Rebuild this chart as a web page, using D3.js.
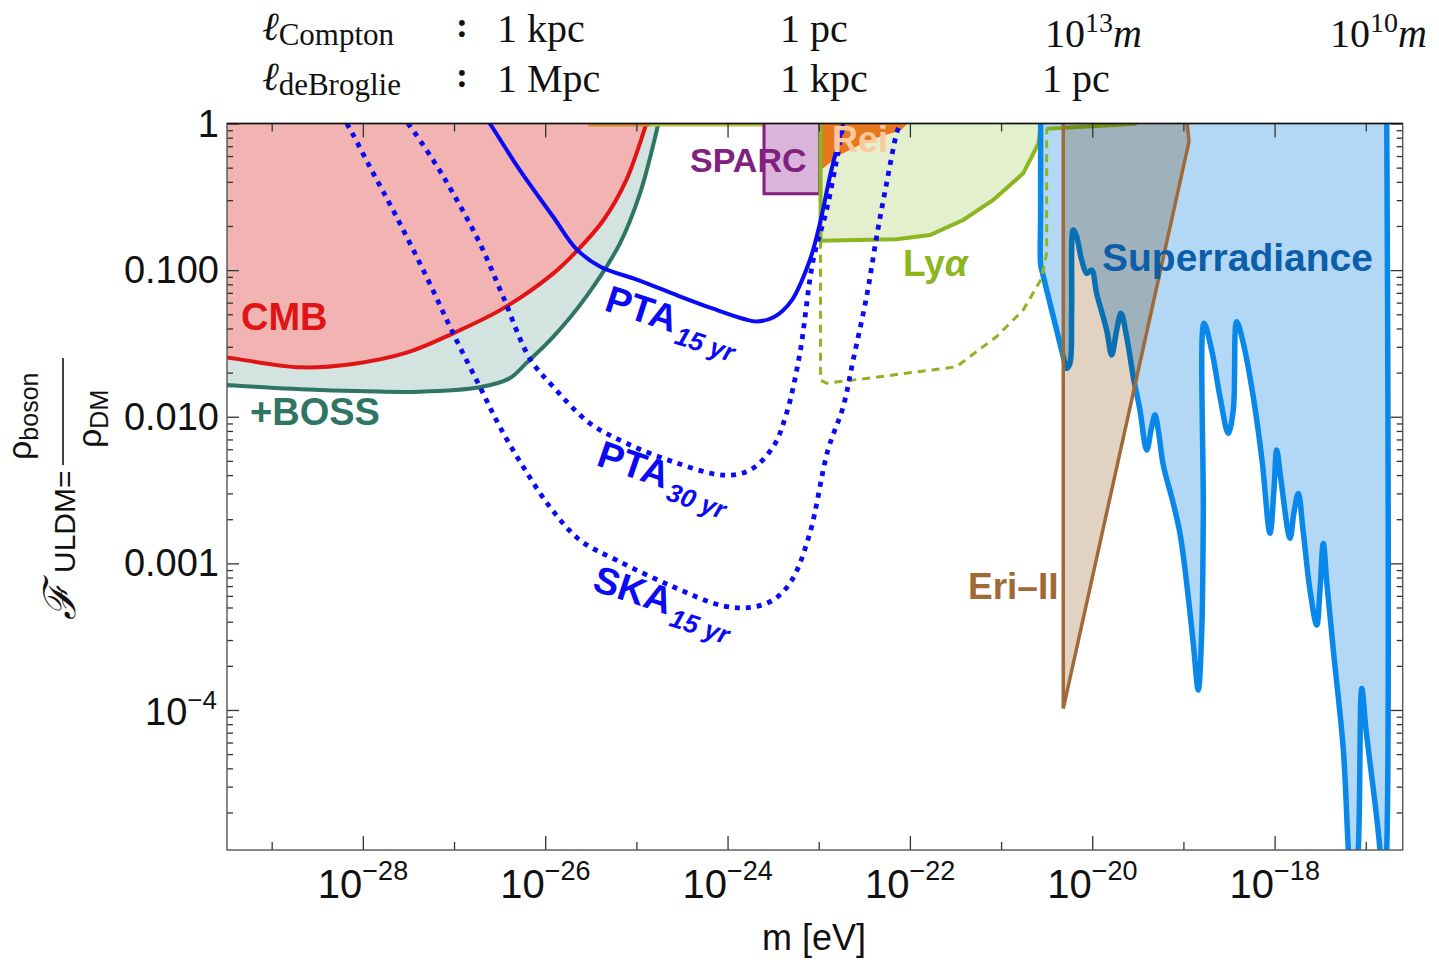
<!DOCTYPE html>
<html>
<head>
<meta charset="utf-8">
<title>ULDM bounds</title>
<script src="https://d3js.org/d3.v7.min.js"></script>
<style>
    body { margin: 0; background: #fff; }
    text { font-family: "Liberation Sans", Arial, sans-serif; }
    .serif { font-family: "Liberation Serif", "DejaVu Serif", serif; }
    .tick line { stroke: #333; stroke-width: 1.3; }
    .lbl { font-weight: bold; }
</style>
</head>
<body>
<script>
// every point is [log10(m / eV), log10(F_ULDM)]
var cmbCurve = [[-29.6,-1.59],[-29.5,-1.595],[-28.69,-1.663],[-28.11,-1.640],[-27.52,-1.563],[-27.01,-1.431],
    [-26.46,-1.261],[-25.91,-1.022],[-25.66,-0.874],[-25.36,-0.658],[-25.11,-0.385],[-24.89,0],[-24.85,0.08]];
var bossCurve = [[-29.6,-1.78],[-29.5,-1.784],[-28.47,-1.818],[-27.38,-1.829],[-26.72,-1.799],[-26.39,-1.738],
    [-26.21,-1.636],[-25.91,-1.454],[-25.55,-1.181],[-25.18,-0.817],[-24.96,-0.476],[-24.82,-0.158],[-24.76,0],[-24.74,0.08]];
var sparcBox = [[-23.60,-0.479],[-22.99,0.02]];
var reiRegion = [[-22.976,0.02],[-21.992,0.02],[-22.10,-0.046],[-22.44,-0.113],[-22.77,-0.215],[-22.976,-0.317]];
var lyaEdge = [[-22.98,0.02],[-22.98,-0.800],[-22.146,-0.790],[-21.78,-0.761],[-21.415,-0.658],
    [-21.086,-0.522],[-20.757,-0.340],[-20.59,-0.135],[-20.555,0.02]];
var lyaDashed = [[-22.98,-0.800],[-22.98,-1.750],[-22.914,-1.772],[-22.33,-1.727],[-21.49,-1.659],
    [-21.05,-1.454],[-20.757,-1.272],[-20.555,-1.056],[-20.50,-0.883],[-20.50,-0.035]];
var lyaTop = [[-20.50,-0.035],[-19.513,-0.002]];
var topBands = [[-25.53,-24.85],[-24.85,-21.99]];
var pta15 = [[-26.70,0.08],[-26.608,0],[-26.28,-0.317],[-25.913,-0.636],[-25.66,-0.855],[-25.40,-0.975],
    [-24.98,-1.068],[-24.54,-1.175],[-24.15,-1.265],[-23.82,-1.333],[-23.68,-1.350],[-23.49,-1.320],
    [-23.30,-1.210],[-23.097,-0.931],[-22.987,-0.681],[-22.878,-0.363],[-22.787,-0.135],[-22.732,0],[-22.72,0.06]];
var pta30 = [[-27.58,0.06],[-27.504,0],[-27.23,-0.249],[-27.01,-0.476],[-26.717,-0.817],[-26.462,-1.181],
    [-26.169,-1.602],[-25.913,-1.795],[-25.51,-2.045],[-25.108,-2.181],[-24.597,-2.307],[-24.048,-2.398],
    [-23.755,-2.364],[-23.50,-2.205],[-23.353,-1.977],[-23.207,-1.568],[-23.061,-0.931],[-22.914,-0.590],
    [-22.804,-0.249],[-22.732,0],[-22.72,0.06]];
var ska15 = [[-28.25,0.06],[-28.177,0],[-27.924,-0.295],[-27.631,-0.636],[-27.302,-1.045],[-27.01,-1.431],
    [-26.717,-1.795],[-26.498,-2.068],[-26.242,-2.341],[-25.95,-2.614],[-25.62,-2.841],[-25.218,-2.978],
    [-24.597,-3.160],[-24.05,-3.290],[-23.75,-3.300],[-23.50,-3.250],[-23.30,-3.120],[-23.10,-2.800],
    [-22.90,-2.230],[-22.732,-1.932],[-22.622,-1.613],[-22.475,-1.181],[-22.365,-0.772],[-22.256,-0.408],
    [-22.146,-0.067],[-22.11,0],[-22.10,0.06]];
var eriRegion = [[-20.318,0.02],[-20.318,-3.99],[-18.939,-0.124],[-18.961,0.02]];
var superrad = [[-20.566,0.02],[-20.566,-0.6],[-20.566,-0.960],[-20.545,-1.02],[-20.464,-1.226],[-20.391,-1.408],[-20.318,-1.591],
    [-20.281,-1.670],[-20.245,-1.636],[-20.226,-1.272],[-20.208,-0.726],[-20.171,-0.772],[-20.116,-0.931],
    [-20.061,-1.022],[-20.007,-0.999],[-19.952,-1.158],[-19.842,-1.409],[-19.787,-1.579],[-19.732,-1.409],
    [-19.685,-1.295],[-19.623,-1.454],[-19.55,-1.727],[-19.477,-1.954],[-19.403,-2.227],[-19.348,-2.068],
    [-19.312,-1.988],[-19.276,-2.091],[-19.221,-2.329],[-19.111,-2.591],[-19.038,-2.795],[-18.964,-3.136],
    [-18.892,-3.546],[-18.837,-3.864],[-18.8,-3.478],[-18.782,-2.682],[-18.774,-1.363],[-18.69,-1.545],
    [-18.599,-1.864],[-18.508,-2.113],[-18.453,-1.954],[-18.416,-1.352],[-18.343,-1.499],[-18.234,-1.864],
    [-18.138,-2.295],[-18.051,-2.795],[-18.007,-2.5],[-17.977,-2.227],[-17.93,-2.432],[-17.831,-2.829],
    [-17.787,-2.65],[-17.74,-2.523],[-17.688,-2.773],[-17.612,-3.182],[-17.538,-3.421],[-17.502,-3.182],
    [-17.466,-2.864],[-17.425,-3.148],[-17.356,-3.591],[-17.246,-4.274],[-17.191,-4.955],[-17.14,-5.43],
    [-17.082,-4.955],[-17.044,-3.853],[-16.997,-4.137],[-16.844,-4.955],[-16.811,-5.43],[-16.77,-4.955],[-16.77,0.02]];

var xLabelExps = [-28,-26,-24,-22,-20,-18];
var yLabels = [[0,"1"],[-1,"0.100"],[-2,"0.010"],[-3,"0.001"]];
var comptonRow = ["1 kpc","1 pc"];
var broglieRow = ["1 Mpc","1 kpc","1 pc"];

var W = 1439, H = 960;
var margin = { top: 123.5, right: 36.3, bottom: 110, left: 227 },
    width = W - margin.left - margin.right,
    height = H - margin.top - margin.bottom;

var svg = d3.select("body").append("svg").attr("width", W).attr("height", H);
var g = svg.append("g").attr("transform", "translate(" + margin.left + "," + margin.top + ")");

var x = d3.scaleLog().domain([Math.pow(10,-29.49), Math.pow(10,-16.595)]).range([0, width]);
var y = d3.scaleLog().domain([Math.pow(10,-4.955), 1]).range([height, 0]);
function px(d) { return x(Math.pow(10, d[0])); }
function py(d) { return y(Math.pow(10, d[1])); }
var smooth = d3.line().x(px).y(py).curve(d3.curveCatmullRom.alpha(0.5));
var straight = d3.line().x(px).y(py);
function corner(p) { return "L" + px(p) + "," + py(p); }

g.append("clipPath").attr("id", "clip").append("rect").attr("width", width).attr("height", height);
var plot = g.append("g").attr("clip-path", "url(#clip)");

// BOSS + CMB
plot.append("path").attr("d", smooth(bossCurve) + corner([-29.6,0.1]) + "Z").attr("fill", "#d3e3e0");
plot.append("path").attr("d", smooth(cmbCurve) + corner([-29.6,0.1]) + "Z").attr("fill", "#f2b3b3");
plot.append("path").attr("d", smooth(cmbCurve)).attr("fill", "none").attr("stroke", "#e01414").attr("stroke-width", 4);
plot.append("path").attr("d", smooth(bossCurve)).attr("fill", "none").attr("stroke", "#2f7564").attr("stroke-width", 4);

// thin bands touching F = 1
plot.selectAll(".band").data(topBands).enter().append("line")
    .attr("x1", function (d) { return x(Math.pow(10, d[0])); })
    .attr("x2", function (d) { return x(Math.pow(10, d[1])); })
    .attr("y1", 1.5).attr("y2", 1.5)
    .attr("stroke", function (d, i) { return i == 0 ? "#d88a2a" : "#b9c43a"; })
    .attr("stroke-width", 3);

// SPARC
plot.append("rect")
    .attr("x", x(Math.pow(10, sparcBox[0][0]))).attr("y", y(Math.pow(10, sparcBox[1][1])))
    .attr("width", x(Math.pow(10, sparcBox[1][0])) - x(Math.pow(10, sparcBox[0][0])))
    .attr("height", y(Math.pow(10, sparcBox[0][1])) - y(Math.pow(10, sparcBox[1][1])))
    .attr("fill", "#dab4da").attr("stroke", "#80207f").attr("stroke-width", 3);

// Lyman alpha
plot.append("path").attr("d", straight(lyaEdge) + "Z").attr("fill", "#e4efcd");
plot.append("path").attr("d", straight(reiRegion) + "Z").attr("fill", "#e8781e");
plot.append("path").attr("d", straight(lyaEdge)).attr("fill", "none").attr("stroke", "#8cb520").attr("stroke-width", 4);

// Superradiance
plot.append("path").attr("d", smooth(superrad) + "Z").attr("fill", "#b3d8f6");
plot.append("path").attr("d", smooth(superrad)).attr("fill", "none").attr("stroke", "#0a88ea")
    .attr("stroke-width", 5.5).attr("stroke-linejoin", "round");
plot.append("path").attr("d", straight(lyaDashed)).attr("fill", "none").attr("stroke", "#8cb520")
    .attr("stroke-width", 3).attr("stroke-dasharray", "8 6");
plot.append("path").attr("d", straight(lyaTop)).attr("fill", "none").attr("stroke", "#7fae1e").attr("stroke-width", 4);

// Eri-II
plot.append("path").attr("d", straight(eriRegion) + "Z").attr("fill", "#e2d2c2").style("mix-blend-mode", "multiply");
plot.append("path").attr("d", straight(eriRegion)).attr("fill", "none").attr("stroke", "#a06a38").attr("stroke-width", 3.5);

// PTA / SKA
plot.append("path").attr("d", smooth(pta15)).attr("fill", "none").attr("stroke", "#0a0af5").attr("stroke-width", 4);
[pta30, ska15].forEach(function (c) {
    plot.append("path").attr("d", smooth(c)).attr("fill", "none").attr("stroke", "#0a0af5")
        .attr("stroke-width", 4.8).attr("stroke-dasharray", "5 6");
});

// axes: ticks only
var decades = d3.range(-29, -16);
var longX = decades.filter(function (e) { return e % 2 == 0; }).map(function (e) { return Math.pow(10, e); });
var shortX = decades.filter(function (e) { return e % 2 != 0; }).map(function (e) { return Math.pow(10, e); });
var majY = d3.range(-4, 1).map(function (e) { return Math.pow(10, e); });
var minY = [];
d3.range(-5, 0).forEach(function (e) { for (var j = 2; j < 10; j++) { var v = j * Math.pow(10, e); if (v > y.domain()[0]) minY.push(v); } });

function ticks(axis) { return function (s) { s.call(axis.tickFormat("")); s.select(".domain").remove(); }; }
g.append("g").attr("transform", "translate(0," + height + ")").call(ticks(d3.axisBottom(x).tickValues(longX).tickSize(-14)));
g.append("g").attr("transform", "translate(0," + height + ")").call(ticks(d3.axisBottom(x).tickValues(shortX).tickSize(-8)));
g.append("g").call(ticks(d3.axisTop(x).tickValues(longX).tickSize(-14)));
g.append("g").call(ticks(d3.axisTop(x).tickValues(shortX).tickSize(-8)));
g.append("g").call(ticks(d3.axisLeft(y).tickValues(majY).tickSize(-12)));
g.append("g").call(ticks(d3.axisLeft(y).tickValues(minY).tickSize(-6)));
g.append("g").attr("transform", "translate(" + width + ",0)").call(ticks(d3.axisRight(y).tickValues(majY).tickSize(-12)));
g.append("g").attr("transform", "translate(" + width + ",0)").call(ticks(d3.axisRight(y).tickValues(minY).tickSize(-6)));

g.append("rect").attr("width", width).attr("height", height).attr("fill", "none").attr("stroke", "#555").attr("stroke-width", 1.4);
g.append("line").attr("x1", 0).attr("x2", width).attr("stroke", "#111").attr("stroke-width", 1.4);

// tick labels
xLabelExps.forEach(function (e) {
    var t = g.append("text").attr("x", x(Math.pow(10, e)) - 45).attr("y", height + 48).attr("font-size", 40).attr("fill", "#111");
    t.append("tspan").text("10");
    t.append("tspan").attr("dy", -18).attr("font-size", 27).text("\u2212" + (-e));
});
yLabels.forEach(function (d) {
    g.append("text").attr("x", -8).attr("y", y(Math.pow(10, d[0])) + 13).attr("text-anchor", "end")
        .attr("font-size", 38).attr("fill", "#111").text(d[1]);
});
var t4 = g.append("text").attr("x", -82).attr("y", y(1e-4) + 15).attr("font-size", 38).attr("fill", "#111");
t4.append("tspan").text("10");
t4.append("tspan").attr("dy", -16).attr("font-size", 26).text("\u22124");

// axis titles
svg.append("text").attr("x", 814).attr("y", 950).attr("text-anchor", "middle").attr("font-size", 36).attr("fill", "#111").text("m [eV]");
var yl = svg.append("g").attr("transform", "translate(75,620) rotate(-90)").attr("fill", "#111");
yl.append("text").attr("font-family", "DejaVu Sans").attr("font-style", "italic").attr("font-size", 44).text("\u2131");
yl.append("text").attr("x", 47).attr("font-size", 30).text("ULDM=");
yl.append("line").attr("x1", 155).attr("x2", 262).attr("y1", -12).attr("y2", -12).attr("stroke", "#111").attr("stroke-width", 1.6);
var num = yl.append("text").attr("x", 160).attr("y", -44).attr("font-size", 34);
num.append("tspan").text("\u03c1");
num.append("tspan").attr("dy", 7).attr("font-size", 25).text("boson");
var den = yl.append("text").attr("x", 172).attr("y", 26).attr("font-size", 34);
den.append("tspan").text("\u03c1");
den.append("tspan").attr("dy", 7).attr("font-size", 25).text("DM");

// top scale labels
function ell(yy, sub) {
    var t = svg.append("text").attr("class", "serif").attr("x", 262).attr("y", yy).attr("font-size", 40).attr("fill", "#111");
    t.append("tspan").attr("font-style", "italic").text("\u2113");
    t.append("tspan").attr("dy", 5).attr("font-size", 31).text(sub);
    svg.append("text").attr("class", "serif").attr("x", 456).attr("y", yy - 3).attr("font-size", 36).attr("font-weight", "bold").attr("fill", "#111").text(":");
}
ell(40, "Compton");
ell(90, "deBroglie");
[497, 780].forEach(function (xx, i) {
    svg.append("text").attr("class", "serif").attr("x", xx).attr("y", 42).attr("font-size", 40).attr("fill", "#111").text(comptonRow[i]);
});
[497, 780, 1042].forEach(function (xx, i) {
    svg.append("text").attr("class", "serif").attr("x", xx).attr("y", 92).attr("font-size", 40).attr("fill", "#111").text(broglieRow[i]);
});
[[1045, "13"], [1330, "10"]].forEach(function (d) {
    var t = svg.append("text").attr("class", "serif").attr("x", d[0]).attr("y", 47).attr("font-size", 40).attr("fill", "#111");
    t.append("tspan").text("10");
    t.append("tspan").attr("dy", -15).attr("font-size", 28).text(d[1]);
    t.append("tspan").attr("dy", 15).attr("font-style", "italic").text("m");
});

// region labels
function label(txt, xx, yy, size, color) {
    return svg.append("text").attr("class", "lbl").attr("x", xx).attr("y", yy).attr("font-size", size).attr("fill", color).text(txt);
}
label("CMB", 241, 330, 38, "#e01414");
label("+BOSS", 250, 425, 38, "#2f7564");
label("SPARC", 690, 172, 34, "#80207f");
label("Rei", 832, 152, 36, "#fbc99c");
label("Superradiance", 1102, 271, 39, "#0d5ea8");
label("Eri\u2013II", 968, 599, 37, "#a06a38");
var lya = label("Ly", 903, 276, 37, "#8cb520");
lya.append("tspan").attr("font-style", "italic").text("\u03b1");

[["15 yr", 603, 310, "PTA", 18], ["30 yr", 595, 465, "PTA", 19], ["15 yr", 591, 590, "SKA", 18]].forEach(function (d) {
    var t = svg.append("text").attr("class", "lbl").attr("transform", "translate(" + d[1] + "," + d[2] + ") rotate(" + d[4] + ")")
        .attr("font-size", 38).attr("fill", "#0a0af5");
    t.append("tspan").text(d[3]);
    t.append("tspan").attr("dx", 4).attr("dy", 10).attr("font-size", 26).attr("font-style", "italic").text(d[0]);
});
</script>
</body>
</html>
